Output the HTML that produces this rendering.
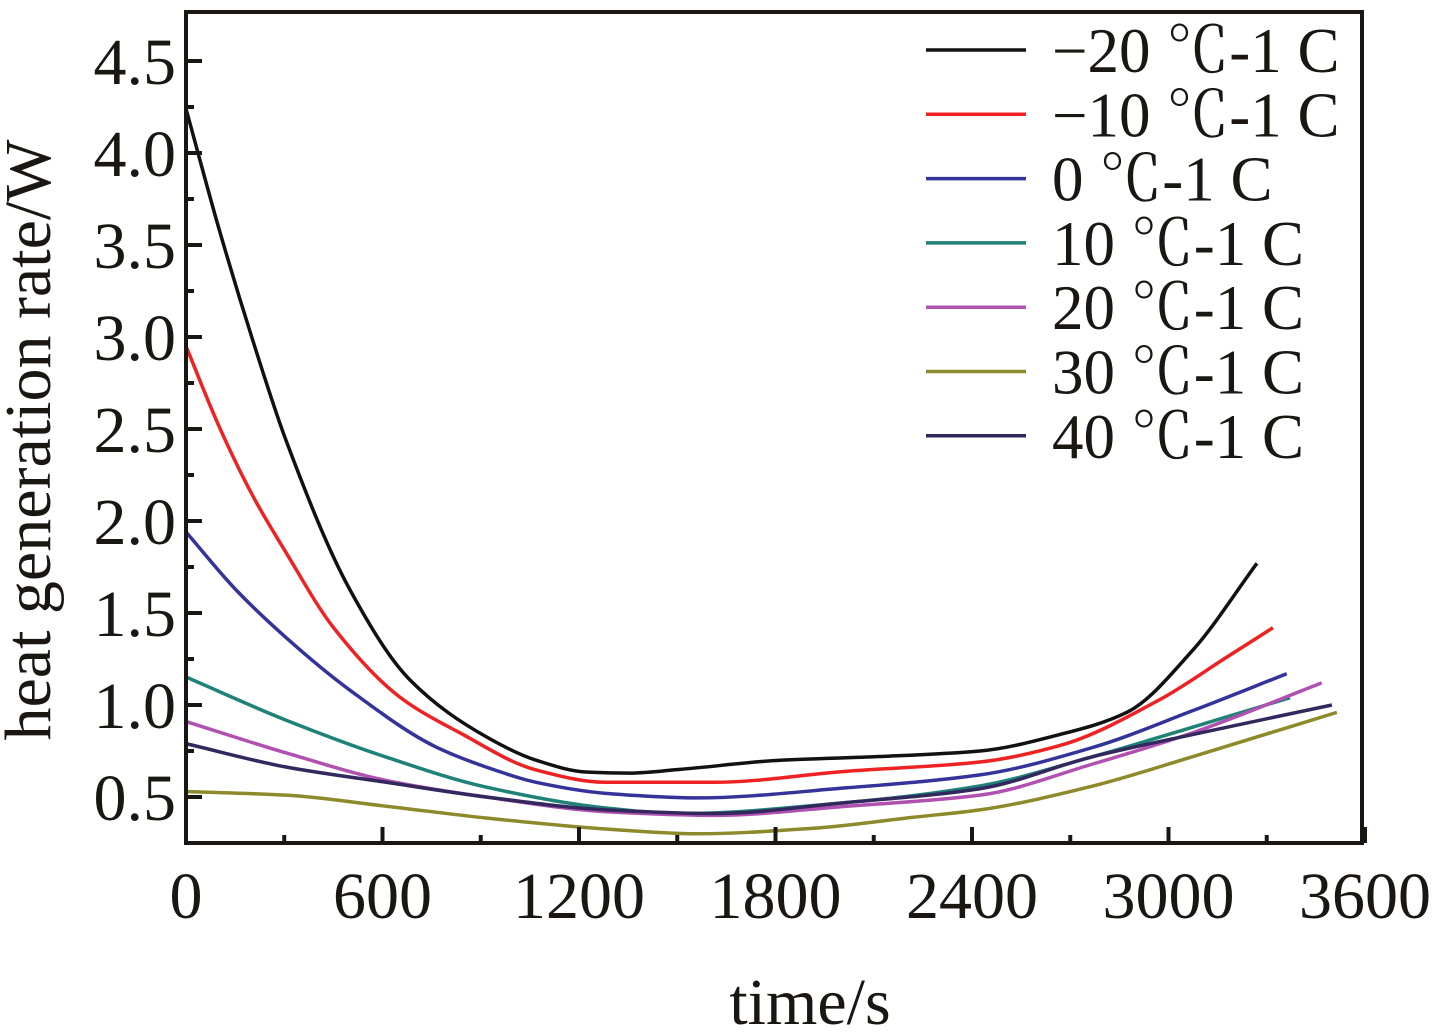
<!DOCTYPE html>
<html><head><meta charset="utf-8"><style>
html,body{margin:0;padding:0;background:#fff}
svg text{font-family:"Liberation Serif","Noto Serif CJK SC",serif;fill:#1a1712}
</style></head><body>
<svg id="chart" width="1432" height="1031" viewBox="0 0 1432 1031" xmlns="http://www.w3.org/2000/svg">
<g id="marks"></g>
<rect x="186" y="12" width="1176" height="831" fill="none" stroke="#1a1712" stroke-width="4"/>
<g id="axes"></g>
<text x="810" y="1024" font-size="66" text-anchor="middle">time/s</text>
<text transform="translate(50,440) rotate(-90)" font-size="66" text-anchor="middle">heat generation rate/W</text>
<g id="legend"></g>
</svg>
<script>
const seriesNames=["−20 ℃-1 C","−10 ℃-1 C","0 ℃-1 C","10 ℃-1 C","20 ℃-1 C","30 ℃-1 C","40 ℃-1 C"];
const seriesColors=["#111111","#ee2222","#33339a","#1f8277","#b050b0","#8c8a2a","#33285e"];
const times=[
[0,102,206,305,501,684,918,1069,1221,1356,1508,1814,2119,2424,2669,2873,3075,3270],
[0,102,206,305,449,653,837,1069,1282,1610,2018,2424,2669,2974,3178,3319],
[0,153,348,501,763,916,1069,1282,1560,2018,2424,2770,3075,3361],
[0,305,611,916,1282,1508,2018,2424,2770,3075,3371],
[0,305,611,916,1282,1610,2018,2424,2770,3075,3468],
[0,305,611,916,1282,1560,1916,2221,2424,2770,3075,3514],
[0,305,611,916,1282,1610,2018,2424,2770,3075,3499]];
const values=[
[4.24,3.58,2.97,2.44,1.625,1.136,0.826,0.70,0.636,0.63,0.65,0.70,0.72,0.75,0.84,0.96,1.30,1.77],
[2.95,2.51,2.13,1.83,1.424,1.043,0.848,0.647,0.58,0.58,0.64,0.69,0.78,1.03,1.26,1.42],
[1.94,1.625,1.30,1.08,0.772,0.663,0.58,0.52,0.495,0.55,0.62,0.77,0.97,1.17],
[1.152,0.918,0.717,0.554,0.44,0.41,0.47,0.56,0.72,0.88,1.04],
[0.91,0.74,0.59,0.50,0.42,0.40,0.45,0.51,0.68,0.85,1.12],
[0.53,0.51,0.45,0.386,0.326,0.30,0.33,0.39,0.43,0.56,0.72,0.96],
[0.79,0.663,0.58,0.50,0.43,0.41,0.47,0.545,0.72,0.84,1.0]];
const xTicks=[0,600,1200,1800,2400,3000,3600];
const yTicks=[0.5,1.0,1.5,2.0,2.5,3.0,3.5,4.0,4.5];
const NS="http://www.w3.org/2000/svg";
const X=t=>186+t*0.3275, Y=v=>797-(v-0.5)*184;
function mk(tag,attrs,parent){const e=document.createElementNS(NS,tag);for(const k in attrs)e.setAttribute(k,attrs[k]);parent.appendChild(e);return e;}
function monotone(pts){const n=pts.length,d=[],m=[];
for(let i=0;i<n-1;i++)d.push((pts[i+1][1]-pts[i][1])/(pts[i+1][0]-pts[i][0]));
m[0]=d[0];m[n-1]=d[n-2];
for(let i=1;i<n-1;i++){if(d[i-1]*d[i]<=0)m[i]=0;else{const h0=pts[i][0]-pts[i-1][0],h1=pts[i+1][0]-pts[i][0];const w1=2*h1+h0,w2=h1+2*h0;m[i]=(w1+w2)/(w1/d[i-1]+w2/d[i]);}}
let s=`M${pts[0][0]},${pts[0][1]}`;
for(let i=0;i<n-1;i++){const h=(pts[i+1][0]-pts[i][0])/3;s+=` C${pts[i][0]+h},${pts[i][1]+m[i]*h} ${pts[i+1][0]-h},${pts[i+1][1]-m[i+1]*h} ${pts[i+1][0]},${pts[i+1][1]}`;}
return s;}
const marks=document.getElementById('marks'),axes=document.getElementById('axes'),legend=document.getElementById('legend');
values.forEach((vs,s)=>{const pts=vs.map((v,i)=>[X(times[s][i]),Y(v)]);
const p=mk('path',{d:monotone(pts),fill:'none',stroke:seriesColors[s],'stroke-width':3.5},marks);

});
for(let t=0;t<=3600;t+=300){const major=t%600===0;const l=mk('line',{x1:X(t),x2:X(t),y1:843,y2:843-(major?16:8),stroke:'#1a1712','stroke-width':4},axes);

}
xTicks.forEach(t=>{const tx=mk('text',{x:X(t),y:918,'font-size':66,'text-anchor':'middle'},axes);tx.textContent=t;

});
for(let v=0.5;v<=4.6;v+=0.25){const major=Math.abs(v*2-Math.round(v*2))<1e-6;const l=mk('line',{x1:186,x2:186+(major?16:8),y1:Y(v),y2:Y(v),stroke:'#1a1712','stroke-width':4},axes);

}
yTicks.forEach(v=>{const tx=mk('text',{x:176,y:Y(v)+23,'font-size':66,'text-anchor':'end'},axes);tx.textContent=v.toFixed(1);

});
seriesNames.forEach((n,i)=>{const y=50+i*64.3;
const l=mk('line',{x1:926,x2:1026,y1:y,y2:y,stroke:seriesColors[i],'stroke-width':3.5},legend);


const tx=mk('text',{x:1052,y:y+22,'font-size':63},legend);tx.textContent=n;

});
</script>
</body></html>
